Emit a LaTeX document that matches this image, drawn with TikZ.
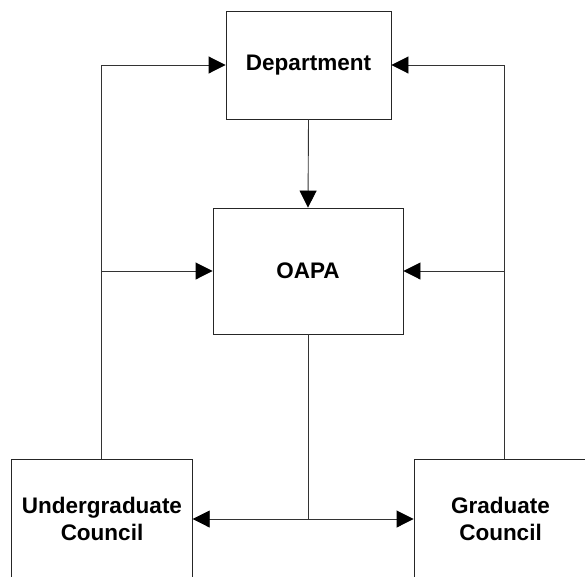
\documentclass[tikz,border=0pt]{standalone}
\usepackage{fontspec}
\setmainfont{Liberation Sans}
\usetikzlibrary{arrows.meta}
\begin{document}
\begin{tikzpicture}[x=1pt,y=-1pt,
  unit/.style={draw=black!85, line width=0.9pt, fill=white, inner sep=0pt,
    align=center, font=\fontsize{22.5}{27}\selectfont\bfseries},
  link/.style={line width=0.9pt, draw=black!80},
  head/.style={Triangle[length=17pt,width=17pt,fill=black,color=black]},
  tip/.style={-{Triangle[length=17pt,width=17pt,fill=black,color=black]}}]
  \useasboundingbox (0,0) rectangle (585,576);
  \clip (0,0) rectangle (585,576);

  % organisational units
  \node[unit, minimum width=165pt, minimum height=108pt] (dept) at (308.5,65) {Department};
  \node[unit, minimum width=190pt, minimum height=126pt] (oapa) at (308,271) {OAPA};
  \node[unit, minimum width=180.5pt, minimum height=119pt] (ug) at (102,518.5) {Undergraduate\\Council};
  \node[unit, minimum width=173pt, minimum height=119pt] (grad) at (500.5,518.5) {Graduate\\Council};

  % routing points
  \coordinate (lft) at (101.7,271);
  \coordinate (rgt) at (504,271);
  \coordinate (mid) at (308,519);

  % left side: undergraduate council reports upward
  \draw[link, tip] (ug.north -| lft) |- (dept.west);
  \draw[link, tip] (lft) -- (oapa.west);

  % right side: graduate council reports upward
  \draw[link, tip] (grad.north -| rgt) |- (dept.east);
  \draw[link, tip] (rgt) -- (oapa.east);

  % department to OAPA
  \draw[link, tip] (dept.south) -- (oapa.north);

  % OAPA down to both councils
  \draw[link] (oapa.south) -- (mid);
  \draw[link, {Triangle[length=17pt,width=17pt,fill=black,color=black]}-{Triangle[length=17pt,width=17pt,fill=black,color=black]}]
    (ug.east |- mid) -- (grad.west |- mid);
\end{tikzpicture}
\end{document}
